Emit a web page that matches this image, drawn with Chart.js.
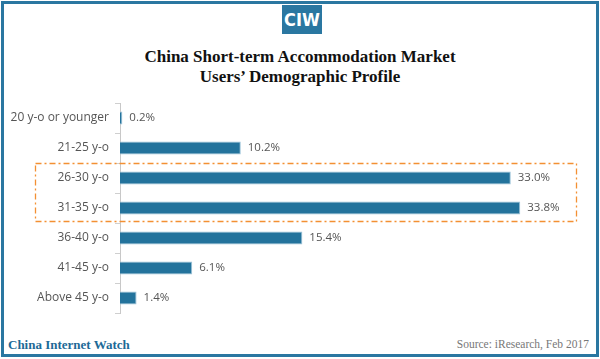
<!DOCTYPE html>
<html>
<head>
<meta charset="utf-8">
<script src="https://cdn.jsdelivr.net/npm/chart.js@4"></script>
<style>
  html, body { margin:0; padding:0; background:#fff; }
  body { width:600px; height:359px; position:relative; overflow:hidden; }
  #frame { position:absolute; left:1px; top:1px; width:598px; height:356px; box-sizing:border-box; border:3px solid #2a77a1; }
  #logo { position:absolute; left:282px; top:5px; width:40px; height:29px; background:#2a77a1; color:#fff;
          font-family:"Liberation Sans Narrow","DejaVu Sans Condensed","Roboto",sans-serif; font-weight:bold; font-size:18px;
          line-height:29px; text-align:center; }
  #title { position:absolute; left:0; top:47px; width:600px; text-align:center; font-family:"Liberation Serif","DejaVu Serif",serif;
           font-weight:bold; font-size:17px; line-height:20px; color:#111; }
  #footL { position:absolute; left:8px; top:337px; font-family:"Liberation Serif",serif; font-weight:bold; font-size:13px; color:#1d6a97; }
  #footR { position:absolute; right:11px; top:338px; font-family:"Liberation Serif",serif; font-size:11.5px; color:#777; }
  #wrap { position:absolute; left:0; top:95px; width:600px; height:225px; }
  canvas { display:block; }
</style>
</head>
<body>
<div id="frame"></div>
<div id="logo">CIW</div>
<div id="title">China Short-term Accommodation Market<br>Users’ Demographic Profile</div>
<div id="wrap"><canvas id="c" width="600" height="225"></canvas></div>
<div id="footL">China Internet Watch</div>
<div id="footR">Source: iResearch, Feb 2017</div>
<script>
const categories = ["20 y-o or younger","21-25 y-o","26-30 y-o","31-35 y-o","36-40 y-o","41-45 y-o","Above 45 y-o"];
const shares = [0.2, 10.2, 33.0, 33.8, 15.4, 6.1, 1.4];
const highlightRange = [2, 3];

const valueLabels = {
  id: 'valueLabels',
  afterDatasetsDraw(chart) {
    const ctx = chart.ctx;
    const meta = chart.getDatasetMeta(0);
    ctx.save();
    ctx.font = '11.5px "Open Sans", "Noto Sans", sans-serif';
    ctx.fillStyle = '#555';
    ctx.textBaseline = 'middle';
    ctx.textAlign = 'left';
    meta.data.forEach((bar, i) => {
      ctx.fillText(shares[i].toFixed(1) + '%', bar.x + 7, bar.y);
    });
    ctx.restore();
  }
};

const highlightBox = {
  id: 'highlightBox',
  afterDraw(chart) {
    const y = chart.scales.y;
    const ctx = chart.ctx;
    const a = highlightRange[0], b = highlightRange[1];
    const top = (y.getPixelForValue(a - 1) + y.getPixelForValue(a)) / 2;
    const bottom = (y.getPixelForValue(b) + y.getPixelForValue(b + 1)) / 2 - 2;
    const left = 35, right = 576;
    ctx.save();
    ctx.strokeStyle = '#f39033';
    ctx.lineWidth = 1.3;
    ctx.setLineDash([6, 3, 2, 3]);
    ctx.strokeRect(left + 0.5, top + 0.5, right - left, bottom - top);
    ctx.restore();
  }
};

new Chart(document.getElementById('c'), {
  type: 'bar',
  data: {
    labels: categories,
    datasets: [{
      data: shares,
      backgroundColor: '#23739c',
      borderColor: '#9cc3d8',
      borderWidth: 1,
      categoryPercentage: 1,
      barPercentage: 0.44
    }]
  },
  options: {
    indexAxis: 'y',
    responsive: false,
    animation: false,
    layout: { padding: { top: 8, bottom: 7, right: 30, left: 0 } },
    plugins: { legend: { display: false }, tooltip: { enabled: false }, title: { display: false } },
    scales: {
      x: { display: false, min: 0, max: 38 },
      y: {
        grid: { offset: true, drawOnChartArea: false, tickLength: 5, color: '#cfcfcf' },
        border: { display: true, color: '#c8c8c8' },
        ticks: { color: '#555', padding: 6, font: { family: '"Open Sans", "Noto Sans", sans-serif', size: 12 } },
        afterFit(scale) { scale.width = 120; scale.paddingTop = 0; scale.paddingBottom = 0; }
      }
    }
  },
  plugins: [valueLabels, highlightBox]
});
</script>
</body>
</html>
